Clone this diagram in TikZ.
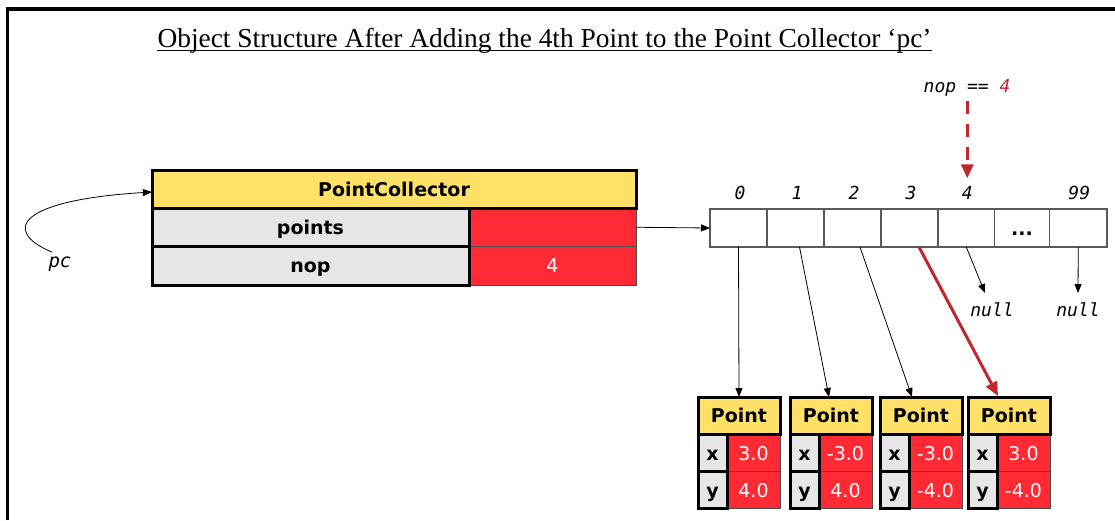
\documentclass[tikz,border=0pt]{standalone}
\usepackage{fontspec}
\setmainfont{Liberation Serif}
\newfontfamily\dvs{DejaVu Sans}
\newfontfamily\dvm{DejaVu Sans Mono}
\usetikzlibrary{arrows.meta,calc}
\definecolor{hdryellow}{HTML}{FFE169}
\definecolor{cellred}{HTML}{FF2A33}
\definecolor{cellgray}{HTML}{E6E6E6}
\definecolor{arrred}{HTML}{C1272D}
\begin{document}
\begin{tikzpicture}[x=1pt,y=-1pt,
 box/.style={rectangle,inner sep=0pt,outer sep=0pt,anchor=north west,text height=14pt,text depth=0pt},
 hdr/.style={box,fill=hdryellow,draw=black,line width=3pt,font=\dvs\bfseries\fontsize{19}{22}\selectfont},
 fld/.style={box,fill=cellgray,draw=black,line width=3pt,font=\dvs\bfseries\fontsize{19}{22}\selectfont},
 val/.style={box,fill=cellred,draw=black!70,line width=0.8pt,text=white,font=\dvs\fontsize{19}{22}\selectfont},
 arrcell/.style={box,fill=white,draw=black!65,line width=1.2pt,minimum height=38,font=\dvs\bfseries\fontsize{19}{22}\selectfont},
 mono/.style={font=\dvm\itshape\fontsize{18}{20}\selectfont},
 ptr/.style={draw=black,line width=0.8pt,-{Triangle[length=9pt,width=7pt]}},
 redptr/.style={draw=arrred,line width=3pt,-{Triangle[length=14pt,width=12pt]}},
]
\useasboundingbox (0,0) rectangle (1115,520);
% frame
\draw[line width=3.5pt] (7.5,520) -- (7.5,9) -- (1115,9);
% title
\node[inner sep=0pt,anchor=base,font=\fontsize{27.4}{30}\selectfont] (title) at (544.5,47) {Object Structure After Adding the 4th Point to the Point Collector ‘pc’};
\draw[line width=1.3pt] ([yshift=-3.5pt]title.base west) -- ([yshift=-3.5pt]title.base east);

% PointCollector object
\node[val,minimum width=167,minimum height=38.5] (pv) at (469,208) {};
\node[val,minimum width=167,minimum height=38.5] (nv) at (469,246.5) {4};
\node[fld,minimum width=317,minimum height=38.5] (pf) at (152,208) {points};
\node[fld,minimum width=317,minimum height=38.5] (nf) at (152,246.5) {nop};
\node[hdr,minimum width=484,minimum height=38] (pch) at (152,170) {PointCollector};

% pc reference
\node[mono,font=\dvm\itshape\fontsize{19}{20}\selectfont] (pc) at (60,264) {pc};
\draw[ptr] ([xshift=-8pt,yshift=1pt]pc.north) .. controls (0,230) and (20,200) .. ([yshift=-3pt]pch.west);

% array
\node[arrcell,minimum width=57] (c0) at (710,209) {};
\node[arrcell,minimum width=57] (c1) at (767,209) {};
\node[arrcell,minimum width=57] (c2) at (824,209) {};
\node[arrcell,minimum width=57] (c3) at (881,209) {};
\node[arrcell,minimum width=56.5] (c4) at (938,209) {};
\node[arrcell,minimum width=55] (c5) at (994.5,209) {...};
\node[arrcell,minimum width=57.5] (c6) at (1049.5,209) {};

\node[mono,anchor=base] (i0) at ([xshift=1.5pt,yshift=10pt]c0.north) {0};
\node[mono,anchor=base] (i1) at ([xshift=1.5pt,yshift=10pt]c1.north) {1};
\node[mono,anchor=base] (i2) at ([xshift=1.5pt,yshift=10pt]c2.north) {2};
\node[mono,anchor=base] (i3) at ([xshift=1.5pt,yshift=10pt]c3.north) {3};
\node[mono,anchor=base] (i4) at ([xshift=1pt,yshift=10pt]c4.north) {4};
\node[mono,anchor=base] (i6) at ([xshift=1pt,yshift=10pt]c6.north) {99};

% nop == 4
\node[mono,anchor=base] (nopl) at (967,92) {nop == \textcolor{arrred}{4}};
\draw[redptr,dash pattern=on 13pt off 10pt] ([yshift=-2pt]nopl.south -| i4) -- ([yshift=4pt]i4.north);

% points -> array
\draw[ptr] (pv.east) -- (c0.west);

% Point objects
\foreach \i/\xx/\xv/\yv in {1/698/3.0/4.0, 2/790/-3.0/4.0, 3/880/-3.0/-4.0, 4/968/3.0/-4.0} {
  \node[val,minimum width=53,minimum height=37] (b\i xv) at (\xx+29,434.5) {\xv};
  \node[val,minimum width=53,minimum height=37] (b\i yv) at (\xx+29,471.5) {\yv};
  \node[fld,minimum width=29,minimum height=37] (b\i x) at (\xx,434.5) {x};
  \node[fld,minimum width=29,minimum height=37] (b\i y) at (\xx,471.5) {y};
  \node[hdr,minimum width=82,minimum height=37.5] (b\i h) at (\xx,397) {Point};
}

% array pointers
\draw[ptr] (c0.south) -- (b1h.north);
\draw[ptr] ([xshift=4pt]c1.south) -- ([xshift=-2pt]b2h.north);
\draw[ptr] ([xshift=7.5pt]c2.south) -- ([xshift=-9pt]b3h.north);
\draw[redptr] ([xshift=9.5pt]c3.south) -- ([xshift=-11pt,yshift=1pt]b4h.north);

% nulls
\node[mono,anchor=base,inner sep=1pt] (null1) at (992,316) {null};
\node[mono,anchor=base,inner sep=1pt] (null2) at (1078,316) {null};
\draw[ptr] (c4.south) -- ([xshift=-7pt,yshift=8pt]null1.north);
\draw[ptr] (c6.south) -- ([yshift=8pt]null2.north);
\end{tikzpicture}
\end{document}
